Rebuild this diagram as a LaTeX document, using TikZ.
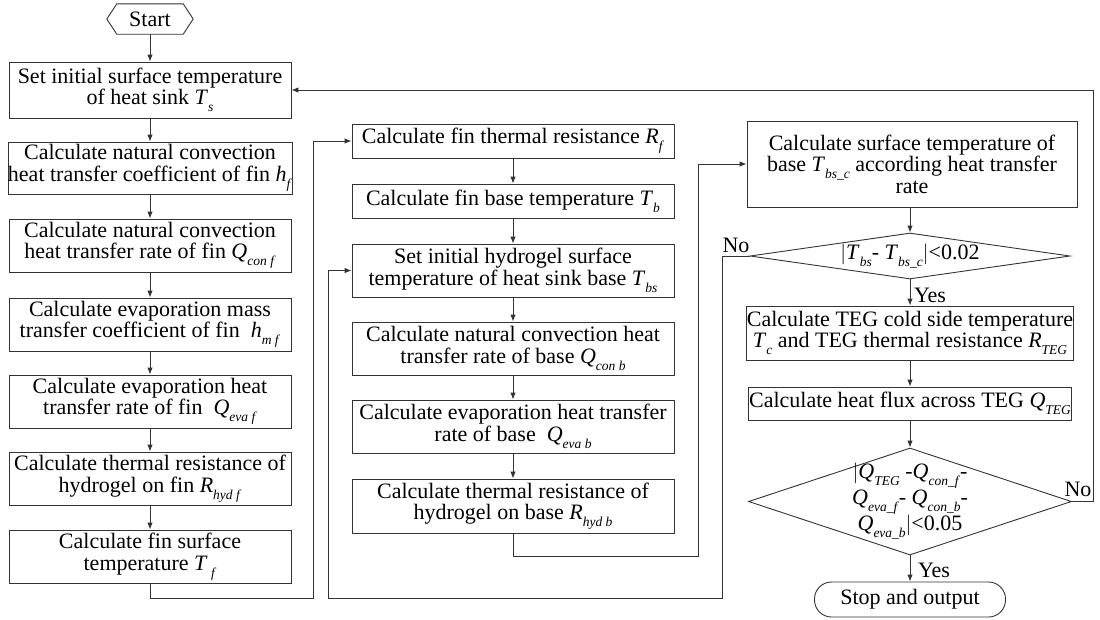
\documentclass[tikz,border=0pt]{standalone}
\usepackage{fontspec}
\setmainfont{Liberation Serif}
\usetikzlibrary{arrows.meta,shapes.geometric,calc}
\newcommand{\myfs}{\fontsize{22}{21.5}\selectfont}
\newcommand{\vv}[2]{\textit{#1}\raisebox{-0.32em}{\fontsize{13.5}{13.5}\selectfont\textit{#2}}}
\begin{document}
\begin{tikzpicture}[x=1pt,y=-1pt,
  box/.style={draw=black!80, line width=0.9pt, fill=white, align=center, inner sep=0pt, font=\myfs},
  dia/.style={diamond, draw=black!80, line width=0.9pt, fill=white, aspect=1, inner sep=0pt},
  term/.style={draw=black!80, line width=0.9pt, fill=white, rounded corners=17pt, align=center, font=\myfs},
  lbl/.style={font=\myfs, inner sep=0pt},
  conn/.style={draw=black!80, line width=0.9pt, -{Latex[length=7pt,width=5.5pt]}}]
\useasboundingbox (0,0) rectangle (1100,619);

% start
\node[lbl, minimum width=86pt, minimum height=30pt] (start) at (150,19) {Start};
\draw[draw=black!80, line width=0.9pt] (start.west) -- ($(start.north west)+(10pt,0)$) -- ($(start.north east)+(-10pt,0)$) -- (start.east) -- ($(start.south east)+(-10pt,0)$) -- ($(start.south west)+(10pt,0)$) -- cycle;

% left column
\node[box, minimum width=282pt, minimum height=56pt] (b1) at (150,90) {Set initial surface temperature\\of heat sink \vv{T}{s}};
\node[box, minimum width=282pt, minimum height=52pt] (b2) at (150,168) {Calculate natural convection\\heat transfer coefficient of fin \vv{h}{f}};
\node[box, minimum width=282pt, minimum height=53pt] (b3) at (150,245.5) {Calculate natural convection\\heat transfer rate of fin \vv{Q}{con f}};
\node[box, minimum width=282pt, minimum height=53pt] (b4) at (150,324.5) {Calculate evaporation mass\\transfer coefficient of fin ~\vv{h}{m f}};
\node[box, minimum width=282pt, minimum height=53pt] (b5) at (150,401.5) {Calculate evaporation heat\\transfer rate of fin ~\vv{Q}{eva f}};
\node[box, minimum width=282pt, minimum height=53pt] (b6) at (150,478.5) {Calculate thermal resistance of\\hydrogel on fin \vv{R}{hyd f}};
\node[box, minimum width=282pt, minimum height=53pt] (b7) at (150,556.5) {Calculate fin surface\\temperature \vv{T}{ f}};

% middle column
\node[box, minimum width=322pt, minimum height=34pt] (m1) at (513,141) {Calculate fin thermal resistance \vv{R}{f}};
\node[box, minimum width=322pt, minimum height=34pt] (m2) at (513,201) {Calculate fin base temperature \vv{T}{b}};
\node[box, minimum width=322pt, minimum height=53pt] (m3) at (513,270.5) {Set initial hydrogel surface\\temperature of heat sink base \vv{T}{bs}};
\node[box, minimum width=322pt, minimum height=53pt] (m4) at (513,348.5) {Calculate natural convection heat\\transfer rate of base \vv{Q}{con b}};
\node[box, minimum width=322pt, minimum height=53pt] (m5) at (513,426.5) {Calculate evaporation heat transfer\\rate of base ~\vv{Q}{eva b}};
\node[box, minimum width=322pt, minimum height=54pt] (m6) at (513,506) {Calculate thermal resistance of\\hydrogel on base \vv{R}{hyd b}};

% right column
\node[box, minimum width=330pt, minimum height=86pt] (r1) at (912,164) {Calculate surface temperature of\\base \vv{T}{bs\_c} according heat transfer\\rate};
\node[dia, minimum width=320pt, minimum height=46pt, label={[name=d1t, lbl]center:$|$\vv{T}{bs}- \vv{T}{bs\_c}$|$<0.02}] (d1) at (910,256) {};
\node[box, minimum width=324pt, minimum height=54pt] (r2) at (910,333) {Calculate TEG cold side temperature\\\vv{T}{c} and TEG thermal resistance \vv{R}{TEG}};
\node[box, minimum width=323pt, minimum height=33pt] (r3) at (910,403.5) {Calculate heat flux across TEG \vv{Q}{TEG}};
\node[dia, minimum width=323pt, minimum height=107pt, label={[name=d2t, lbl, align=center]center:$|$\vv{Q}{TEG} -\vv{Q}{con\_f}-\\\vv{Q}{eva\_f}- \vv{Q}{con\_b}-\\\vv{Q}{eva\_b}$|$<0.05}] (d2) at (910,501.5) {};
\node[term, minimum width=191pt, minimum height=35pt] (stop) at (910,599.5) {Stop and output};

% labels
\node[lbl] (no1) at (736,245) {No};
\node[lbl] (yes1) at (930,295) {Yes};
\node[lbl] (no2) at (1078,489) {No};
\node[lbl] (yes2) at (934,570) {Yes};

% coordinates
\coordinate (c1) at (313,598);
\coordinate (c2) at (698,556);
\coordinate (c3) at (722,598);
\coordinate (c4) at (328,598);
\coordinate (c5) at (1093,90);

% connectors
\draw[conn] (start) -- (b1);
\draw[conn] (b1) -- (b2);
\draw[conn] (b2) -- (b3);
\draw[conn] (b3) -- (b4);
\draw[conn] (b4) -- (b5);
\draw[conn] (b5) -- (b6);
\draw[conn] (b6) -- (b7);
\draw[conn] (b7.south) |- (c1) |- (m1.west);
\draw[conn] (m1) -- (m2);
\draw[conn] (m2) -- (m3);
\draw[conn] (m3) -- (m4);
\draw[conn] (m4) -- (m5);
\draw[conn] (m5) -- (m6);
\draw[conn] (m6.south) |- (c2) |- (r1.west);
\draw[conn] (r1.south -| d1.north) -- (d1.north);
\draw[conn] (d1) -- (r2);
\draw[conn] (r2) -- (r3);
\draw[conn] (r3) -- (d2);
\draw[conn] (d2) -- (stop);
\draw[conn] (d1.west) -| (c3) -- (c4) |- (m3.west);
\draw[conn] (d2.east) -| (c5) -- (b1.east);
\end{tikzpicture}
\end{document}
